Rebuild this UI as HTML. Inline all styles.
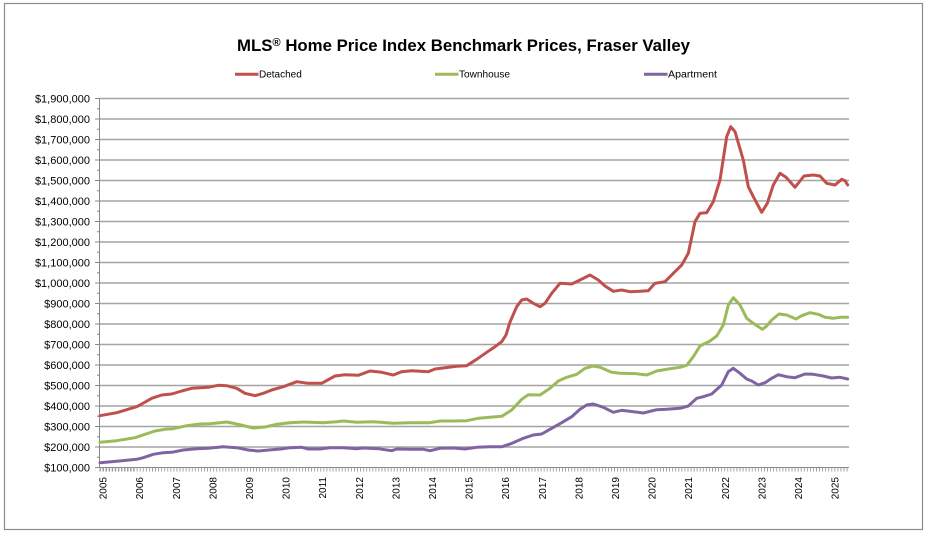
<!DOCTYPE html>
<html>
<head>
<meta charset="utf-8">
<style>
  html, body { margin:0; padding:0; background:#fff; }
  body { width:930px; height:533px; overflow:hidden; }
  svg { display:block; }
  text { font-family: "Liberation Sans", "DejaVu Sans", sans-serif; fill:#000; }
</style>
</head>
<body>
<svg width="930" height="533" viewBox="0 0 930 533" xmlns="http://www.w3.org/2000/svg">
  <rect x="0" y="0" width="930" height="533" fill="#fff"/>
  <rect x="4.5" y="3.5" width="918" height="526" fill="none" stroke="#8c8c8c" stroke-width="1.2"/>

  <!-- Title -->
  <text x="237" y="51" font-size="16.5" font-weight="bold" textLength="453" lengthAdjust="spacingAndGlyphs">MLS<tspan font-size="11" dy="-5">®</tspan><tspan dy="5"> Home Price Index Benchmark Prices, Fraser Valley</tspan></text>

  <!-- Legend -->
  <line x1="235" y1="74.3" x2="258.5" y2="74.3" stroke="#C0504D" stroke-width="3"/>
  <text x="259" y="77.5" font-size="10">Detached</text>
  <line x1="435" y1="74.3" x2="458.5" y2="74.3" stroke="#9BBB59" stroke-width="3"/>
  <text x="459" y="77.5" font-size="10" textLength="51" lengthAdjust="spacingAndGlyphs">Townhouse</text>
  <line x1="644" y1="74.3" x2="667.5" y2="74.3" stroke="#8064A2" stroke-width="3"/>
  <text x="668" y="77.5" font-size="10" textLength="49" lengthAdjust="spacingAndGlyphs">Apartment</text>

  <!-- Gridlines -->
  <g stroke="#a3a3a3" stroke-width="1.4">
    <line x1="99" y1="98.5" x2="849" y2="98.5"/>
    <line x1="99" y1="119" x2="849" y2="119"/>
    <line x1="99" y1="139.5" x2="849" y2="139.5"/>
    <line x1="99" y1="160" x2="849" y2="160"/>
    <line x1="99" y1="180.5" x2="849" y2="180.5"/>
    <line x1="99" y1="201" x2="849" y2="201"/>
    <line x1="99" y1="221.5" x2="849" y2="221.5"/>
    <line x1="99" y1="242" x2="849" y2="242"/>
    <line x1="99" y1="262.5" x2="849" y2="262.5"/>
    <line x1="99" y1="283" x2="849" y2="283"/>
    <line x1="99" y1="303.5" x2="849" y2="303.5"/>
    <line x1="99" y1="324" x2="849" y2="324"/>
    <line x1="99" y1="344.5" x2="849" y2="344.5"/>
    <line x1="99" y1="365" x2="849" y2="365"/>
    <line x1="99" y1="385.5" x2="849" y2="385.5"/>
    <line x1="99" y1="406" x2="849" y2="406"/>
    <line x1="99" y1="426.5" x2="849" y2="426.5"/>
    <line x1="99" y1="447" x2="849" y2="447"/>
  </g>

  <!-- Y axis -->
  <g stroke="#888" stroke-width="1">
    <line x1="99.5" y1="98" x2="99.5" y2="468"/>
    <line x1="95" y1="98.5" x2="99.5" y2="98.5"/><line x1="97" y1="108.75" x2="99.5" y2="108.75"/>
    <line x1="95" y1="119" x2="99.5" y2="119"/><line x1="97" y1="129.25" x2="99.5" y2="129.25"/>
    <line x1="95" y1="139.5" x2="99.5" y2="139.5"/><line x1="97" y1="149.75" x2="99.5" y2="149.75"/>
    <line x1="95" y1="160" x2="99.5" y2="160"/><line x1="97" y1="170.25" x2="99.5" y2="170.25"/>
    <line x1="95" y1="180.5" x2="99.5" y2="180.5"/><line x1="97" y1="190.75" x2="99.5" y2="190.75"/>
    <line x1="95" y1="201" x2="99.5" y2="201"/><line x1="97" y1="211.25" x2="99.5" y2="211.25"/>
    <line x1="95" y1="221.5" x2="99.5" y2="221.5"/><line x1="97" y1="231.75" x2="99.5" y2="231.75"/>
    <line x1="95" y1="242" x2="99.5" y2="242"/><line x1="97" y1="252.25" x2="99.5" y2="252.25"/>
    <line x1="95" y1="262.5" x2="99.5" y2="262.5"/><line x1="97" y1="272.75" x2="99.5" y2="272.75"/>
    <line x1="95" y1="283" x2="99.5" y2="283"/><line x1="97" y1="293.25" x2="99.5" y2="293.25"/>
    <line x1="95" y1="303.5" x2="99.5" y2="303.5"/><line x1="97" y1="313.75" x2="99.5" y2="313.75"/>
    <line x1="95" y1="324" x2="99.5" y2="324"/><line x1="97" y1="334.25" x2="99.5" y2="334.25"/>
    <line x1="95" y1="344.5" x2="99.5" y2="344.5"/><line x1="97" y1="354.75" x2="99.5" y2="354.75"/>
    <line x1="95" y1="365" x2="99.5" y2="365"/><line x1="97" y1="375.25" x2="99.5" y2="375.25"/>
    <line x1="95" y1="385.5" x2="99.5" y2="385.5"/><line x1="97" y1="395.75" x2="99.5" y2="395.75"/>
    <line x1="95" y1="406" x2="99.5" y2="406"/><line x1="97" y1="416.25" x2="99.5" y2="416.25"/>
    <line x1="95" y1="426.5" x2="99.5" y2="426.5"/><line x1="97" y1="436.75" x2="99.5" y2="436.75"/>
    <line x1="95" y1="447" x2="99.5" y2="447"/><line x1="97" y1="457.25" x2="99.5" y2="457.25"/>
    <line x1="95" y1="467.5" x2="99.5" y2="467.5"/>
  </g>

  <!-- Y labels -->
  <g font-size="11" text-anchor="end">
    <text x="90" y="102.5">$1,900,000</text>
    <text x="90" y="123">$1,800,000</text>
    <text x="90" y="143.5">$1,700,000</text>
    <text x="90" y="164">$1,600,000</text>
    <text x="90" y="184.5">$1,500,000</text>
    <text x="90" y="205">$1,400,000</text>
    <text x="90" y="225.5">$1,300,000</text>
    <text x="90" y="246">$1,200,000</text>
    <text x="90" y="266.5">$1,100,000</text>
    <text x="90" y="287">$1,000,000</text>
    <text x="90" y="307.5">$900,000</text>
    <text x="90" y="328">$800,000</text>
    <text x="90" y="348.5">$700,000</text>
    <text x="90" y="369">$600,000</text>
    <text x="90" y="389.5">$500,000</text>
    <text x="90" y="410">$400,000</text>
    <text x="90" y="430.5">$300,000</text>
    <text x="90" y="451">$200,000</text>
    <text x="90" y="471.5">$100,000</text>
  </g>

  <!-- X axis -->
  <line x1="99" y1="467.5" x2="849" y2="467.5" stroke="#888" stroke-width="1"/>
  <path id="xticks" stroke="#999" stroke-width="0.8" fill="none" d="
  M100,467.5v4 M103.06,467.5v4 M106.12,467.5v4 M109.18,467.5v4 M112.24,467.5v4 M115.3,467.5v4 M118.36,467.5v4 M121.42,467.5v4 M124.48,467.5v4 M127.54,467.5v4 M130.6,467.5v4 M133.66,467.5v4
  "/>
  <g id="ticks"></g>

  <!-- X labels -->
  <g font-size="10" text-anchor="end">
    <text transform="translate(106.6,477) rotate(-90)">2005</text>
    <text transform="translate(143.2,477) rotate(-90)">2006</text>
    <text transform="translate(179.8,477) rotate(-90)">2007</text>
    <text transform="translate(216.4,477) rotate(-90)">2008</text>
    <text transform="translate(253,477) rotate(-90)">2009</text>
    <text transform="translate(289.6,477) rotate(-90)">2010</text>
    <text transform="translate(326.2,477) rotate(-90)">2011</text>
    <text transform="translate(362.8,477) rotate(-90)">2012</text>
    <text transform="translate(399.4,477) rotate(-90)">2013</text>
    <text transform="translate(436,477) rotate(-90)">2014</text>
    <text transform="translate(472.6,477) rotate(-90)">2015</text>
    <text transform="translate(509.2,477) rotate(-90)">2016</text>
    <text transform="translate(545.8,477) rotate(-90)">2017</text>
    <text transform="translate(582.4,477) rotate(-90)">2018</text>
    <text transform="translate(619,477) rotate(-90)">2019</text>
    <text transform="translate(655.6,477) rotate(-90)">2020</text>
    <text transform="translate(692.2,477) rotate(-90)">2021</text>
    <text transform="translate(728.8,477) rotate(-90)">2022</text>
    <text transform="translate(765.4,477) rotate(-90)">2023</text>
    <text transform="translate(802,477) rotate(-90)">2024</text>
    <text transform="translate(838.6,477) rotate(-90)">2025</text>
  </g>

  <!-- Series -->
  <g fill="none" stroke-width="3" stroke-linejoin="round" stroke-linecap="round">
    <polyline stroke="#8064A2" points="100,462.7 116.7,461.3 136.7,459.3 143.3,457.7 153.3,454.3 163.3,452.7 171.7,452.3 183.3,450 196.7,448.7 208.3,448.3 223.3,446.7 236.7,447.7 248.3,450 258.3,451 271.7,449.7 283.3,448.7 290,447.7 301.7,447.3 308.3,449 320,449 330,447.7 343.3,447.7 356.7,448.7 363.3,448 378.3,448.7 391.7,450.7 396.7,449 410,449.3 423.3,449.3 430,450.7 440,448.3 453.3,448 465,449 476.7,447.3 490,446.8 501.7,446.8 512,443.3 523.3,438.3 533.3,435 541.7,434 551.7,428.3 561.7,422.7 571.7,416.7 580,409.3 586.7,405 593.3,404 603.3,407.3 613.3,412.3 621.7,410.3 633.3,411.7 643.3,413 656.7,409.7 666.7,409.3 680,408.3 688.3,406 696.7,398.3 703.3,396.7 711.7,394 721.7,385 728.3,371.7 733.3,368.3 740,373.3 746.7,379 751.7,381 758.3,385 765,382.7 771.7,378.3 778.3,374.7 786.7,376.7 795,377.7 805,374 813.3,374.3 823.3,376 831.7,378 840,377.3 847.7,379"/>
    <polyline stroke="#9BBB59" points="100,442.3 116.7,440.7 135,437.7 145,434.3 155,431 165,429.3 173.3,428.7 186.7,425.7 200,424 210,423.7 226.7,422 236.7,424 253.3,428 265,427 276.7,424.3 290,422.7 303.3,422 323.3,422.7 336.7,421.7 343.3,421 356.7,422.3 373.3,421.7 393.3,423.3 410,422.7 430,422.7 440,421 453.3,421 466.7,420.7 478.3,418.3 490,417.3 501.7,416.3 505,414.3 511.7,410 521.7,399.3 528.3,394.7 540,395 550,388.3 558.3,381 566.7,377.3 576.7,374.3 585,368.3 593.3,366 600,367.3 611.7,372.3 620,373.3 636.7,373.7 646.7,375 656.7,371 668.3,369 680,367.3 686.7,365.3 693.3,356.7 700,346 710,341 716.7,336 723.3,325 728.3,305 733.3,297.7 740,305 746.7,318.3 753.3,323.3 762.3,329.3 766.7,326 771.7,320 779,314 786.7,315 796,319 801.7,315.7 810,312.7 818.3,314.3 825,317.3 833.3,318.3 840,317.3 847.7,317.3"/>
    <polyline stroke="#C0504D" points="100,415.7 116.7,412.7 136.7,406.7 140,405 151.7,398.3 161.7,395 171.7,394 181.7,391 191.7,388.3 208.3,387.3 218.3,385.3 226.7,385.7 236.7,388.3 245,393.3 255,395.7 263.3,393.3 271.7,390 283.3,386.7 296.7,381.7 308.3,383.3 321.7,383.3 335,376 345,374.7 358.3,375.3 370,371 381.7,372.3 393.3,375 401.7,371.7 411.7,370.7 428.3,371.7 435,369 445,367.7 456.7,366.3 466.7,365.7 476.7,359.3 486.7,352.3 495,346.7 501.7,341.7 506,335 510,322 516.7,306.7 521.7,300 526.7,299 533.3,303.3 540,306.7 545,303.3 551.7,293.3 560,283.3 571.7,284 580,280 590,275 598.3,280 605,286 613.3,291.3 621.7,290 630,291.7 640,291.3 648.3,290.7 655,283.3 665,281.7 673.3,273.3 681.7,265 688.3,253.3 695,221.7 700,213.3 706.7,212.7 713.3,201.7 720,180 726.7,136.7 730.7,126.7 735,131.7 743.3,160 748.3,186.7 753.3,196.7 761.7,212.3 767.3,203.3 773.3,185 780,173.3 786,177.3 795,187.3 804,176 813.3,175 820,176 826.7,183.3 835,185 841.7,179.3 845,180.7 847.7,185"/>
  </g>

  <!-- monthly minor ticks on x axis -->
  <g stroke="#999" stroke-width="0.8">
    <path d="M100,467.5v4M103.06,467.5v4M106.12,467.5v4M109.18,467.5v4M112.24,467.5v4M115.3,467.5v4M118.36,467.5v4M121.42,467.5v4M124.48,467.5v4M127.54,467.5v4M130.6,467.5v4M133.66,467.5v4"/>
  </g>
  <defs>
    <pattern id="tickpat" x="100" y="467" width="3.06" height="5" patternUnits="userSpaceOnUse">
      <rect x="0" y="0" width="0.9" height="5" fill="#999"/>
    </pattern>
  </defs>
  <rect x="100" y="467.5" width="749" height="4" fill="url(#tickpat)"/>
</svg>
</body>
</html>
